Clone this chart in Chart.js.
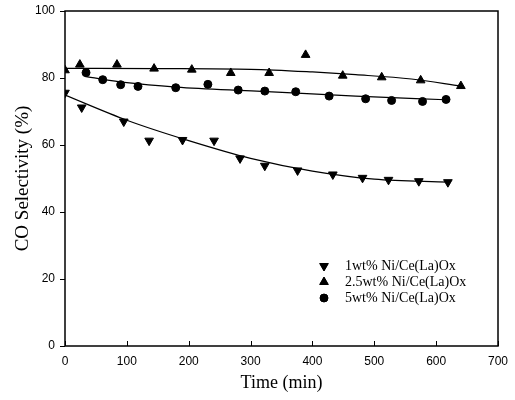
<!DOCTYPE html>
<html>
<head>
<meta charset="utf-8">
<script src="https://cdn.jsdelivr.net/npm/chart.js@4.4.0/dist/chart.umd.min.js"></script>
<style>
  html, body { margin: 0; padding: 0; background: #fff; }
  #wrap { width: 515px; height: 400px; }
</style>
</head>
<body>
<div id="wrap"><canvas id="selChart" width="515" height="400"></canvas></div>
<script>
// measured points, time (min) vs CO selectivity (%)
const time1 = [0, 27, 95, 136, 190, 241, 283, 323, 376, 433, 481, 523, 572, 619]
const sel1 = [75.6, 71.2, 67.0, 61.3, 61.5, 61.3, 56.0, 53.8, 52.4, 51.2, 50.2, 49.6, 49.2, 48.9]

const time2 = [0, 24, 84, 144, 205, 268, 330, 389, 449, 512, 575, 640]
const sel2 = [82.3, 84.0, 84.0, 82.8, 82.5, 81.5, 81.5, 86.9, 80.7, 80.2, 79.3, 77.6]

const time3 = [34, 61, 90, 118, 179, 231, 280, 323, 373, 427, 486, 528, 578, 616]
const sel3 = [81.6, 79.5, 78.0, 77.5, 77.1, 78.1, 76.4, 76.1, 75.9, 74.6, 73.8, 73.3, 73.0, 73.6]

// fitted trend lines
const fitTime1 = [0, 100, 200, 300, 400, 500, 620]
const fitSel1 = [74.9, 67.4, 61.3, 56.0, 52.2, 49.8, 48.9]
const fitTime2 = [0, 150, 300, 400, 470, 560, 640]
const fitSel2 = [82.9, 82.8, 82.6, 81.8, 81.0, 79.7, 77.6]
const fitTime3 = [32, 100, 180, 310, 470, 616]
const fitSel3 = [80.5, 78.6, 77.3, 76.1, 74.6, 73.5]

const seriesNames = ["1wt% Ni/Ce(La)Ox", "2.5wt% Ni/Ce(La)Ox", "5wt% Ni/Ce(La)Ox"]
const xTicks = [0, 100, 200, 300, 400, 500, 600, 700]
const yTicks = [0, 20, 40, 60, 80, 100]

const toXY = (xs, ys) => xs.map((x, i) => ({ x: x, y: ys[i] }))

const markerStyles = [
  { pointStyle: "triangle", radius: 5, rotation: 180, borderWidth: 1 },
  { pointStyle: "triangle", radius: 5, rotation: 0, borderWidth: 1 },
  { pointStyle: "circle", radius: 4, rotation: 0, borderWidth: 1 },
]

function pointSet(label, data, m) {
  return {
    type: "scatter",
    label: label,
    data: data,
    showLine: false,
    pointStyle: m.pointStyle,
    pointRadius: m.radius,
    pointRotation: m.rotation,
    pointBorderWidth: m.borderWidth,
    backgroundColor: "#000",
    borderColor: "#000",
  }
}

function fitSet(data) {
  return {
    type: "line",
    data: data,
    borderColor: "#000",
    borderWidth: 1.2,
    pointRadius: 0,
    cubicInterpolationMode: "monotone",
    fill: false,
  }
}

// frame, inward x ticks, outward y ticks, and the in-plot legend
const framePlugin = {
  id: "frame",
  afterDraw(chart) {
    const { ctx, chartArea: a, scales } = chart
    ctx.save()
    ctx.strokeStyle = "#000"
    ctx.lineWidth = 1.5
    ctx.strokeRect(a.left, a.top, a.right - a.left, a.bottom - a.top)
    ctx.lineWidth = 1
    ctx.beginPath()
    xTicks.forEach((v) => {
      const px = Math.round(scales.x.getPixelForValue(v)) + 0.5
      ctx.moveTo(px, a.bottom)
      ctx.lineTo(px, a.bottom - 5)
    })
    yTicks.forEach((v) => {
      const py = Math.round(scales.y.getPixelForValue(v)) + 0.5
      ctx.moveTo(a.left, py)
      ctx.lineTo(a.left - 5, py)
    })
    ctx.stroke()

    // legend
    const mx = a.left + 259
    const tx = a.left + 280
    const y0 = a.top + 255
    ctx.fillStyle = "#000"
    ctx.font = "14px 'Liberation Serif'"
    ctx.textBaseline = "middle"
    ctx.textAlign = "left"
    seriesNames.forEach((name, i) => {
      const y = y0 + i * 16
      Chart.helpers.drawPoint(ctx, markerStyles[i], mx, y)
      ctx.fillStyle = "#000"
      ctx.fill()
      ctx.fillText(name, tx, y)
    })
    ctx.restore()
  },
}

new Chart(document.getElementById("selChart"), {
  data: {
    datasets: [
      fitSet(toXY(fitTime1, fitSel1)),
      fitSet(toXY(fitTime2, fitSel2)),
      fitSet(toXY(fitTime3, fitSel3)),
      pointSet(seriesNames[0], toXY(time1, sel1), markerStyles[0]),
      pointSet(seriesNames[1], toXY(time2, sel2), markerStyles[1]),
      pointSet(seriesNames[2], toXY(time3, sel3), markerStyles[2]),
    ],
  },
  options: {
    responsive: false,
    animation: false,
    devicePixelRatio: 1,
    layout: { padding: { left: 0, top: 11, right: 17, bottom: 0 } },
    plugins: {
      legend: { display: false },
      tooltip: { enabled: false },
    },
    scales: {
      x: {
        type: "linear",
        min: 0,
        max: 700,
        afterBuildTicks: (s) => { s.ticks = xTicks.map((v) => ({ value: v })) },
        afterFit: (s) => {
          s.height = 54
          s.paddingLeft = 0
          s.paddingRight = 0
        },
        grid: { display: false, drawTicks: false },
        border: { display: false },
        ticks: { color: "#000", padding: 8, font: { family: "'Liberation Sans'", size: 12 } },
        title: {
          display: true,
          text: "Time (min)",
          color: "#000",
          padding: { top: 0, bottom: 6 },
          font: { family: "'Liberation Serif'", size: 18 },
        },
      },
      y: {
        type: "linear",
        min: 0,
        max: 100,
        afterBuildTicks: (s) => { s.ticks = yTicks.map((v) => ({ value: v })) },
        afterFit: (s) => {
          s.width = 65
          s.paddingTop = 0
          s.paddingBottom = 0
        },
        grid: { display: false, drawTicks: false },
        border: { display: false },
        ticks: { color: "#000", padding: 10, font: { family: "'Liberation Sans'", size: 12 } },
        title: {
          display: true,
          text: "CO Selectivity (%)",
          color: "#000",
          padding: { top: 12, bottom: 0 },
          font: { family: "'Liberation Serif'", size: 19 },
        },
      },
    },
  },
  plugins: [framePlugin],
})
</script>
</body>
</html>
